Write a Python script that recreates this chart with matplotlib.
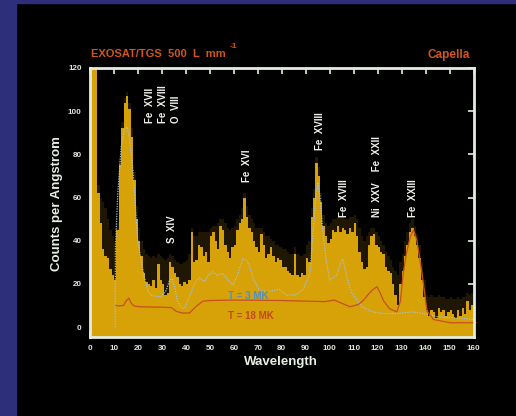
import numpy as np
import matplotlib
matplotlib.use("Agg")
import matplotlib.pyplot as plt
from matplotlib.patches import Rectangle

plt.rcParams['font.family'] = ['Liberation Sans', 'DejaVu Sans']

# ---------------- data ----------------
wavelength_edges = np.arange(0, 161)  # 1 Angstrom bins, 0..160
counts = [130, 130, 130, 62, 48, 36, 33, 32, 27, 24,
          22, 45, 75, 92, 104, 107, 101, 88, 68, 50,
          40, 33, 25, 21, 20, 19, 22, 18, 29, 22,
          20, 15, 16, 30, 28, 25, 23, 20, 19, 21,
          20, 22, 44, 30, 31, 38, 37, 33, 35, 30,
          42, 44, 40, 36, 47, 45, 38, 35, 32, 37,
          38, 45, 48, 50, 60, 51, 46, 44, 40, 37,
          35, 43, 38, 32, 34, 37, 33, 30, 32, 31,
          28, 28, 26, 25, 24, 34, 24, 23, 25, 24,
          32, 30, 51, 60, 76, 70, 58, 47, 42, 39,
          41, 45, 44, 47, 44, 46, 45, 43, 46, 44,
          48, 42, 35, 30, 27, 28, 38, 42, 43, 38,
          37, 35, 34, 28, 26, 25, 20, 15, 10, 20,
          26, 33, 38, 44, 46, 42, 38, 32, 22, 14,
          8, 5, 8, 7, 4, 9, 7, 8, 5, 7,
          8, 6, 4, 8, 5, 9, 6, 12, 8, 10]

counts_upper = [130, 130, 130, 66, 60, 58, 55, 50, 45, 42,
                40, 48, 78, 95, 106, 109, 104, 92, 72, 56,
                46, 40, 36, 34, 33, 32, 33, 32, 34, 33,
                32, 31, 32, 34, 33, 31, 30, 29, 29, 30,
                31, 34, 46, 42, 42, 44, 44, 44, 44, 44,
                46, 47, 47, 48, 50, 50, 48, 46, 45, 46,
                47, 50, 52, 55, 62, 56, 52, 50, 48, 46,
                46, 46, 44, 42, 42, 41, 40, 38, 38, 37,
                36, 36, 35, 34, 34, 37, 34, 33, 33, 34,
                38, 40, 55, 64, 79, 74, 62, 52, 48, 47,
                48, 50, 50, 51, 51, 51, 50, 50, 51, 51,
                52, 50, 46, 42, 40, 42, 44, 46, 46, 44,
                42, 40, 38, 35, 33, 31, 28, 26, 24, 30,
                34, 40, 44, 48, 50, 47, 43, 38, 30, 22,
                15, 14, 15, 14, 14, 15, 14, 14, 13, 13,
                14, 13, 13, 14, 13, 14, 14, 16, 15, 16]

t3_wave = [10.5, 10.6, 11.6, 13.0, 14.4, 15.5, 16.4, 17.8, 18.5, 19.2,
           19.9, 21.3, 22.7, 24.1, 25.5, 29.7, 31.8, 33.2, 34.2, 35.3,
           36.5, 38.0, 39.5, 41.5, 43.5, 45.8, 47.5, 49.5, 51.2, 53.0,
           55.4, 57.5, 59.6, 61.5, 63.8, 65.3, 66.7, 68.0, 70.8, 75.0,
           79.0, 82.0, 86.0, 89.0, 91.8, 93.0, 94.2, 95.1, 96.0, 97.0,
           98.5, 100.0, 103.0, 105.0, 105.5, 107.0, 109.0, 113.4, 117.6, 122.3,
           128.0, 134.4, 139.0, 144.8, 155.8, 161.0]
t3_counts = [0, 37, 62, 83.5, 91.5, 92.7, 88, 74, 63, 51,
             40, 31, 23, 17, 14.6, 14, 17, 21.7, 22.4, 18.6,
             12, 9, 8.8, 14, 20, 23, 21, 24, 25.6, 24,
             24.8, 22, 19.5, 24, 31.7, 31, 27.8, 22.6, 16.8, 16.5,
             17.5, 14.7, 15, 17.5, 25, 43, 60, 67, 60, 46,
             31, 21.8, 24, 31, 31.5, 24, 16.3, 9.4, 7.1, 6.3,
             6.3, 7, 6.3, 4.8, 4, 3.4]

t18_wave = [10.8, 12.0, 14.0, 15.0, 16.2, 17.2, 18.5, 21.0, 25.0, 30.0,
            34.0, 36.0, 38.5, 41.5, 44.3, 47.1, 50.0, 60.0, 70.0, 80.0,
            90.0, 98.0, 102.0, 104.0, 108.5, 112.0, 114.0, 116.0, 117.6, 119.7,
            121.0, 122.4, 125.0, 128.0, 129.5, 130.7, 132.0, 133.6, 135.0, 136.4,
            138.5, 140.6, 143.3, 150.3, 161.0]
t18_counts = [10, 9.8, 10, 12, 13.4, 11, 9.7, 9.4, 9.3, 9.2,
              9.0, 7.3, 6.5, 6.5, 9.6, 12, 12.3, 12.5, 12.4, 12.3,
              12, 11.8, 12.5, 11.5, 9.4, 10.5, 12.3, 15, 17, 18.7,
              16, 12.3, 8.5, 7, 12, 25, 34, 41.8, 45, 40,
              25, 7.5, 3.5, 2, 2]

line_labels = ['Fe  XVII', 'Fe  XVIII', 'O  VIII', 'S  XIV', 'Fe  XVI',
               'Fe  XVIII', 'Fe  XVIII', 'Ni  XXV    Fe  XXII', 'Fe  XXIII']
line_wave = [25.2, 30.5, 35.7, 34.2, 65.6, 95.9, 105.8, 119.8, 134.9]
line_level = [94.5, 94.5, 94.5, 39, 67, 82, 51, 51, 51]

x_ticks = list(range(0, 161, 10))
y_ticks = [0, 20, 40, 60, 80, 100, 120]

# ---------------- styling ----------------
W, H = 516, 416
fig = plt.figure(figsize=(W / 100, H / 100), dpi=100, facecolor='black')
navy = '#2e2f7a'
fig.patches.append(Rectangle((0, 0), 16 / W, 1, transform=fig.transFigure,
                             color=navy, zorder=0))
fig.patches.append(Rectangle((0, 1 - 3 / H), 1, 3 / H, transform=fig.transFigure,
                             color=navy, zorder=0))

ax = fig.add_axes([90 / W, 1 - 337 / H, (473.5 - 90) / W, (337 - 68) / H])
ax.set_facecolor('black')

ax.stairs(counts_upper, wavelength_edges, fill=True, baseline=-5,
          color='#1f1604', zorder=1)
ax.stairs(counts, wavelength_edges, fill=True, baseline=-5,
          color='#d7a108', zorder=2)

ax.plot(t3_wave, t3_counts, color='#a6c3d2', lw=0.9, ls=(0, (1, 1)),
        zorder=3, clip_on=False)
ax.plot(t18_wave, t18_counts, color='#c8501c', lw=0.9, zorder=3, clip_on=False)

ax.set_xlim(0, 160)
ax.set_ylim(-4.6, 120)

spine_c = '#e4ece2'
for s in ax.spines.values():
    s.set_color(spine_c)
    s.set_linewidth(2)
    s.set_zorder(5)

ax.set_xticks(x_ticks)
ax.set_yticks(y_ticks)
ax.tick_params(axis='both', which='both', direction='in', colors=spine_c,
               labelcolor='#dfe8dc', labelsize=5.8, width=1.2, length=4,
               top=True, right=True, left=False)
ax.tick_params(axis='x', pad=6)
ax.tick_params(axis='y', pad=6)
for lab in ax.get_xticklabels() + ax.get_yticklabels():
    lab.set_fontweight('bold')

txt_c = '#e8efe4'
fig.text(280.5 / W, 1 - 362 / H, 'Wavelength', color=txt_c, fontsize=9.5,
         fontweight='bold', ha='center', va='center')
fig.text(57.5 / W, 1 - 204 / H, 'Counts per Angstrom', color=txt_c,
         fontsize=9.5, fontweight='bold', ha='center', va='center', rotation=90)

for lab, xw, yl in zip(line_labels, line_wave, line_level):
    ax.text(xw, yl, lab, rotation=90, ha='center', va='bottom', color='#eef3ea',
            fontsize=7, fontweight='bold', zorder=6)

ax.text(57.4, 14.3, 'T = 3 MK', color='#4f8fc4', fontsize=7,
        fontweight='bold', va='center', zorder=6)
ax.text(57.4, 5.3, 'T = 18 MK', color='#c24a1c', fontsize=7,
        fontweight='bold', va='center', zorder=6)

title_c = '#d0561a'
fig.text(91 / W, 1 - 54 / H, 'EXOSAT/TGS  500  L  mm', color=title_c,
         fontsize=8, fontweight='bold', va='center', ha='left')
fig.text(230 / W, 1 - 47 / H, '-1', color=title_c, fontsize=6,
         fontweight='bold', va='center', ha='left')
fig.text(470 / W, 1 - 55 / H, 'Capella', color=title_c, fontsize=8.5,
         fontweight='bold', va='center', ha='right')

fig.savefig('out.png', dpi=100, facecolor=fig.get_facecolor())
